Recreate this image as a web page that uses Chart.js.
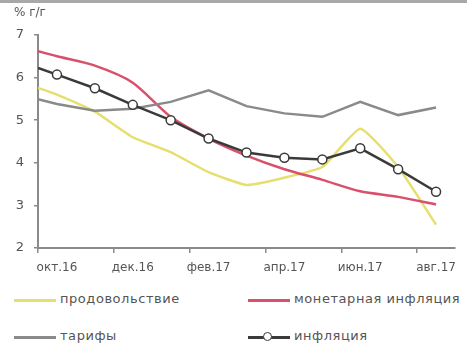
<!DOCTYPE html>
<html>
<head>
<meta charset="utf-8">
<script src="https://cdn.jsdelivr.net/npm/chart.js@4"></script>
<style>
  html, body { margin:0; padding:0; background:#fff; }
  #wrap { position:relative; width:467px; height:351px; overflow:hidden; font-family:"DejaVu Sans", sans-serif; color:#555; }
  #topline { position:absolute; left:0; top:0; width:467px; height:3px; background:#a8a8a8; }
  #ytitle { position:absolute; left:14px; top:5px; font-size:12px; color:#555; }
  #cv { position:absolute; left:0; top:0; }
  .leg { position:absolute; font-size:13px; letter-spacing:0.55px; color:#555; white-space:nowrap; }
  .sw { position:absolute; }
</style>
</head>
<body>
<div id="wrap">
  <div id="topline"></div>
  <canvas id="cv" width="467" height="285"></canvas>
  <div id="ytitle">% г/г</div>
  <div id="legend"></div>
</div>
<script>
// Category labels (monthly, окт.16 … авг.17)
const months = ["окт.16","ноя.16","дек.16","янв.17","фев.17","мар.17","апр.17","май.17","июн.17","июл.17","авг.17"];
// x positions in category units: first value sits at the axis start, then one per month
const xPos = [-0.5, 0, 1, 2, 3, 4, 5, 6, 7, 8, 9, 10];
// Series values (% y/y)
const food      = [5.76, 5.6, 5.2, 4.6, 4.25, 3.78, 3.48, 3.65, 3.9, 4.8, 3.9, 2.55];
const monetary  = [6.62, 6.5, 6.28, 5.88, 5.08, 4.57, 4.17, 3.85, 3.6, 3.33, 3.2, 3.02];
const tariffs   = [5.49, 5.38, 5.22, 5.27, 5.43, 5.7, 5.33, 5.16, 5.08, 5.43, 5.12, 5.3];
const inflation = [6.23, 6.07, 5.75, 5.36, 5.0, 4.57, 4.24, 4.12, 4.08, 4.34, 3.85, 3.32];
const yTicks = [2, 3, 4, 5, 6, 7];

const names = ["продовольствие", "монетарная инфляция", "тарифы", "инфляция"];
const colors = ["#e6df6e", "#d8506c", "#8a8a8a", "#3a3a3a"];

const pts = arr => arr.map((v, i) => ({x: xPos[i], y: v}));

const datasets = [
  {label: names[0], data: pts(food), borderColor: colors[0], borderWidth: 2.5, pointRadius: 0, tension: 0.15, order: 4},
  {label: names[1], data: pts(monetary), borderColor: colors[1], borderWidth: 2.5, pointRadius: 0, tension: 0.25, order: 3},
  {label: names[2], data: pts(tariffs), borderColor: colors[2], borderWidth: 2.5, pointRadius: 0, tension: 0, order: 2},
  {label: names[3], data: pts(inflation), borderColor: colors[3], borderWidth: 2.5, tension: 0, order: 1,
   pointRadius: ctx => ctx.dataIndex === 0 ? 0 : 4.5,
   pointBackgroundColor: "#ffffff", pointBorderColor: colors[3], pointBorderWidth: 1.5}
];

new Chart(document.getElementById("cv"), {
  type: "line",
  data: { datasets },
  options: {
    responsive: false,
    animation: false,
    layout: { padding: { left: 0, right: 12, top: 35, bottom: 0 } },
    plugins: { legend: { display: false }, tooltip: { enabled: false } },
    scales: {
      x: { type: "linear", min: -0.5, max: 10.5, display: false },
      xc: {
        type: "category", position: "bottom", labels: months, offset: true,
        grid: { offset: true, drawOnChartArea: false, drawTicks: true, tickLength: 5,
                color: ctx => (ctx.index % 2 === 0 ? "#8a8a8a" : "rgba(0,0,0,0)"), lineWidth: 1.5 },
        border: { color: "#8a8a8a", width: 2 },
        ticks: { autoSkip: false, maxRotation: 0, padding: 8, color: "#555",
                 font: { family: "DejaVu Sans", size: 12 },
                 callback: (v, i) => (i % 2 === 0 ? months[i] : "") },
        afterFit: s => { s.height = 37; }
      },
      y: {
        min: 2, max: 7,
        afterBuildTicks: s => { s.ticks = yTicks.map(v => ({value: v})); },
        grid: { drawOnChartArea: false, drawTicks: true, tickLength: 4, color: "#8a8a8a", lineWidth: 1.5 },
        border: { color: "#8a8a8a", width: 2 },
        ticks: { padding: 10, color: "#555", font: { family: "DejaVu Sans", size: 13 } },
        afterFit: s => { s.width = 38; }
      }
    }
  }
});

// HTML legend built from dataset names / colours
const legend = document.getElementById("legend");
const slots = [
  {x: 14, y: 300}, {x: 248, y: 300}, {x: 14, y: 337}, {x: 248, y: 337}
];
names.forEach((n, i) => {
  const s = slots[i];
  const line = document.createElement("div");
  line.className = "sw";
  line.style.cssText = `left:${s.x}px;top:${s.y - 1}px;width:42px;height:2.5px;background:${colors[i]};`;
  legend.appendChild(line);
  if (i === 3) {
    const m = document.createElement("div");
    m.className = "sw";
    m.style.cssText = `left:${s.x + 15}px;top:${s.y - 5}px;width:7px;height:7px;border:1.5px solid ${colors[i]};border-radius:50%;background:#fff;`;
    legend.appendChild(m);
  }
  const t = document.createElement("div");
  t.className = "leg";
  t.textContent = n;
  t.style.left = (s.x + 46) + "px";
  t.style.top = (s.y - 9) + "px";
  legend.appendChild(t);
});
</script>
</body>
</html>
